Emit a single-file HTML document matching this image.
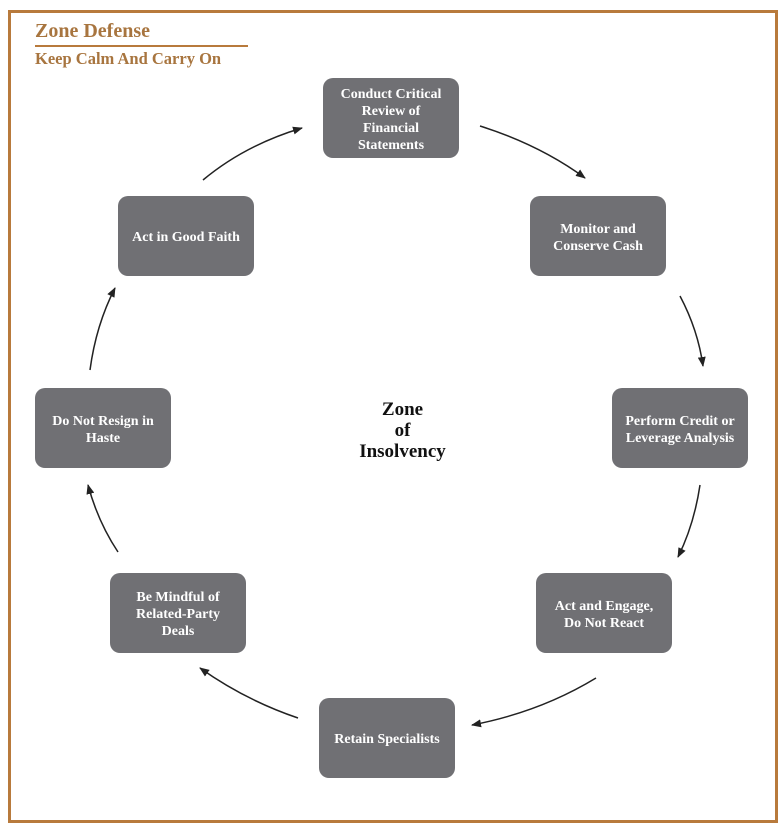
<!DOCTYPE html>
<html><head><meta charset="utf-8"><style>
body{margin:0;background:#fff;width:780px;height:824px;position:relative;overflow:hidden;font-family:"Liberation Serif",serif}
.frame{position:absolute;left:8px;top:10px;width:764px;height:807px;border:3px solid #b87a3c}
.t1{position:absolute;left:35px;top:20px;font-size:20px;font-weight:bold;color:#a8753f}
.line{position:absolute;left:35px;top:45px;width:213px;height:2px;background:#b87a3c}
.t2{position:absolute;left:35px;top:49px;font-size:16.5px;font-weight:bold;color:#a8753f}
.b{position:absolute;width:136px;height:80px;background:#707074;border-radius:10px;color:#fff;font-weight:bold;font-size:14px;line-height:17px;display:flex;align-items:center;justify-content:center;text-align:center;padding-top:3px;box-sizing:border-box}
.c{position:absolute;left:330px;top:399px;width:145px;text-align:center;font-weight:bold;font-size:19px;line-height:21px;color:#111}
</style></head><body>
<div class="frame"></div>
<div class="t1">Zone Defense</div><div class="line"></div>
<div class="t2">Keep Calm And Carry On</div>
<div class="b" style="left:323px;top:78px">Conduct Critical<br>Review of<br>Financial<br>Statements</div>
<div class="b" style="left:530px;top:196px">Monitor and<br>Conserve Cash</div>
<div class="b" style="left:612px;top:388px">Perform Credit or<br>Leverage Analysis</div>
<div class="b" style="left:536px;top:573px">Act and Engage,<br>Do Not React</div>
<div class="b" style="left:319px;top:698px">Retain Specialists</div>
<div class="b" style="left:110px;top:573px">Be Mindful of<br>Related-Party<br>Deals</div>
<div class="b" style="left:35px;top:388px">Do Not Resign in<br>Haste</div>
<div class="b" style="left:118px;top:196px">Act in Good Faith</div>
<div class="c">Zone<br>of<br>Insolvency</div>
<svg width="780" height="824" style="position:absolute;left:0;top:0">
<defs><marker id="a" markerWidth="10" markerHeight="8" refX="9" refY="4" orient="auto" markerUnits="userSpaceOnUse"><path d="M0,0L10,4L0,8z" fill="#222"/></marker></defs>
<g fill="none" stroke="#222" stroke-width="1.5" marker-end="url(#a)">
<path d="M203,180 Q245,145 302,128"/>
<path d="M480,126 Q540,145 585,178"/>
<path d="M680,296 Q698,330 703,366"/>
<path d="M700,485 Q694,525 678,557"/>
<path d="M596,678 Q540,712 472,725"/>
<path d="M298,718 Q245,700 200,668"/>
<path d="M118,552 Q98,522 88,485"/>
<path d="M90,370 Q96,325 115,288"/>
</g></svg>
</body></html>
